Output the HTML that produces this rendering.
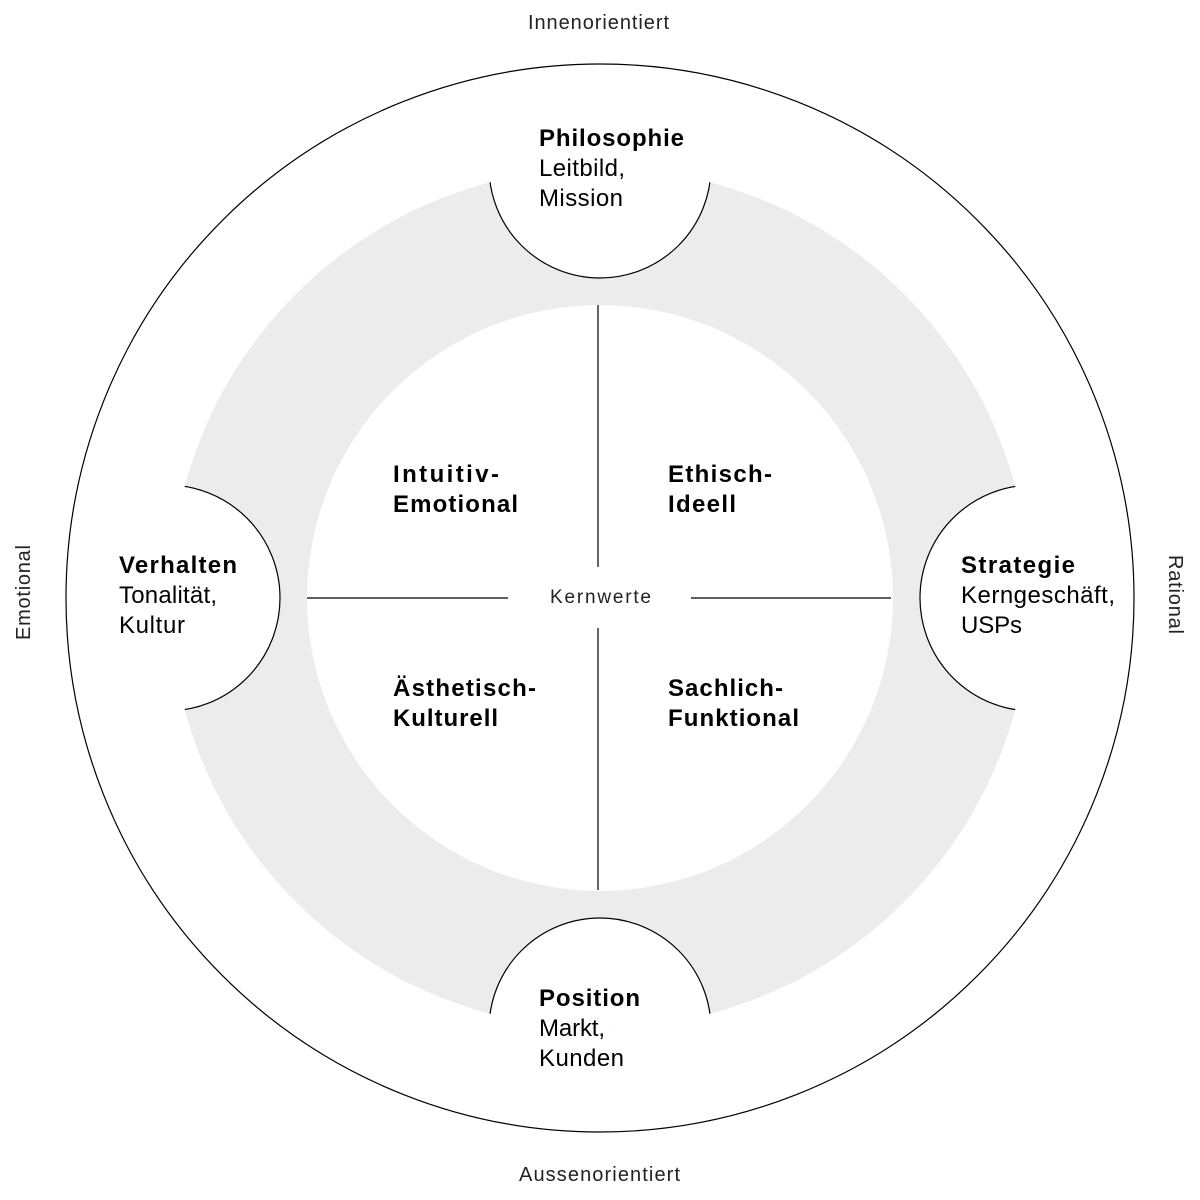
<!DOCTYPE html>
<html><head><meta charset="utf-8"><style>html,body{margin:0;padding:0;background:#fff}svg{display:block}</style></head><body>
<svg width="1200" height="1200" viewBox="0 0 1200 1200" xmlns="http://www.w3.org/2000/svg" font-family="Liberation Sans, Arial, sans-serif">
<defs><clipPath id="ring"><circle cx="600" cy="598" r="430"/></clipPath></defs>
<circle cx="600" cy="598" r="534" fill="#fff" stroke="#000" stroke-width="1.2"/>
<circle cx="600" cy="598" r="430" fill="#ececec"/>
<circle cx="600" cy="598" r="293" fill="#fff"/>
<g clip-path="url(#ring)" fill="#fff" stroke="#000" stroke-width="1.2">
<circle cx="600" cy="167" r="111"/>
<circle cx="600" cy="1029" r="111"/>
<circle cx="167" cy="598" r="113"/>
<circle cx="1033" cy="598" r="113"/>
</g>
<g stroke="#000" stroke-width="1.2">
<line x1="598" y1="305" x2="598" y2="567"/>
<line x1="598" y1="628" x2="598" y2="890"/>
<line x1="307" y1="598" x2="508" y2="598"/>
<line x1="691" y1="598" x2="891" y2="598"/>
</g>
<g font-size="20" fill="#222">
<text x="550" y="603" textLength="101" font-size="19">Kernwerte</text>
<text x="528" y="29" textLength="141">Innenorientiert</text>
<text x="519" y="1181" textLength="161">Aussenorientiert</text>
<text transform="translate(30,640) rotate(-90)" textLength="95">Emotional</text>
<text transform="translate(1169,555) rotate(90)" textLength="79">Rational</text>
</g>
<g font-size="24" fill="#000">
<text x="539" y="146" font-weight="bold" textLength="145">Philosophie</text>
<text x="539" y="176" textLength="86">Leitbild,</text>
<text x="539" y="206" textLength="84">Mission</text>
<text x="539" y="1006" font-weight="bold" textLength="101">Position</text>
<text x="539" y="1036" textLength="66">Markt,</text>
<text x="539" y="1066" textLength="85">Kunden</text>
<text x="119" y="573" font-weight="bold" textLength="118">Verhalten</text>
<text x="119" y="603" textLength="98">Tonalität,</text>
<text x="119" y="633" textLength="66">Kultur</text>
<text x="961" y="573" font-weight="bold" textLength="114">Strategie</text>
<text x="961" y="603" textLength="154">Kerngeschäft,</text>
<text x="961" y="633" textLength="61">USPs</text>
<text x="393" y="482" font-weight="bold" textLength="106">Intuitiv-</text>
<text x="393" y="512" font-weight="bold" textLength="125">Emotional</text>
<text x="668" y="482" font-weight="bold" textLength="104">Ethisch-</text>
<text x="668" y="512" font-weight="bold" textLength="68">Ideell</text>
<text x="393" y="696" font-weight="bold" textLength="143">Ästhetisch-</text>
<text x="393" y="726" font-weight="bold" textLength="105">Kulturell</text>
<text x="668" y="696" font-weight="bold" textLength="115">Sachlich-</text>
<text x="668" y="726" font-weight="bold" textLength="131">Funktional</text>
</g>
</svg>
</body></html>
